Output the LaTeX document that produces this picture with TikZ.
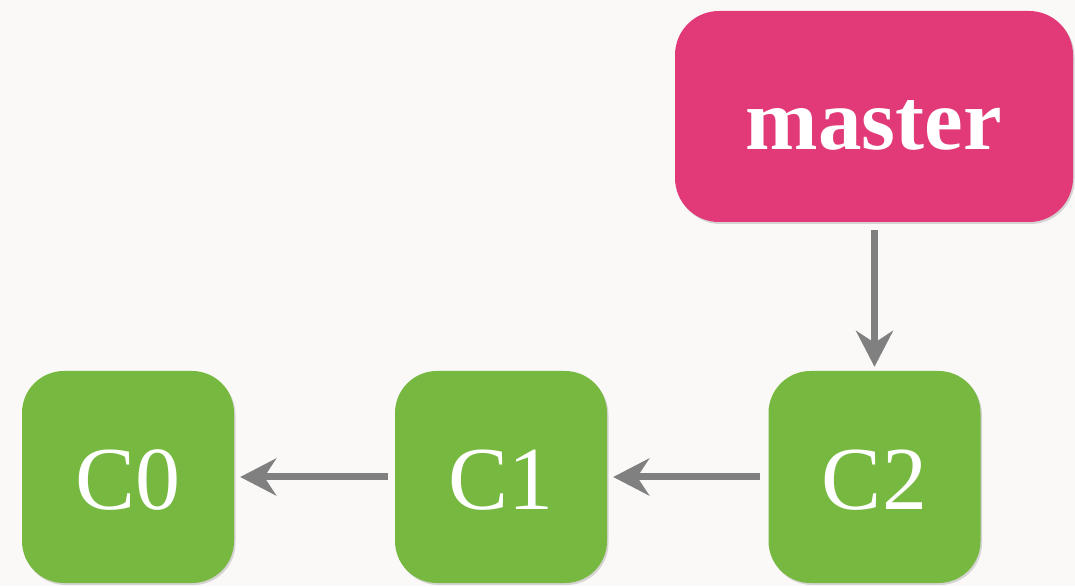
\documentclass[tikz,border=0pt]{standalone}
\usepackage{fontspec}
\setmainfont{Liberation Serif}
\usetikzlibrary{arrows.meta,shadows}
\definecolor{bgc}{HTML}{FAF9F7}
\definecolor{pinkc}{HTML}{E23A78}
\definecolor{greenc}{HTML}{77B940}
\definecolor{arrc}{HTML}{808080}
\newcommand\lowtxt[1]{\raisebox{-33pt}[0pt][0pt]{#1}}
\tikzset{
  commitbox/.style={fill=greenc, draw=none, rounded corners=42pt, minimum width=212pt, minimum height=212pt,
    text=white, font=\fontsize{90}{90}\selectfont, inner sep=0pt,
    drop shadow={opacity=0.3, shadow xshift=1.5pt, shadow yshift=-2pt}},
  branchbox/.style={fill=pinkc, draw=none, rounded corners=44pt, minimum width=398pt, minimum height=211pt,
    text=white, font=\fontsize{87}{87}\selectfont\bfseries, inner sep=0pt,
    drop shadow={opacity=0.3, shadow xshift=1.5pt, shadow yshift=-2pt}},
  link/.style={draw=arrc, line width=7pt, -{Stealth[length=36pt, width=37pt, inset=12pt]}}
}
\begin{document}
\begin{tikzpicture}[x=1pt,y=1pt]
\fill[bgc] (0,0) rectangle (1075,586);
\useasboundingbox (0,0) rectangle (1075,586);
\node[branchbox] (master) at (874,469.5) {\lowtxt{master}};
\node[commitbox] (c0) at (128,109) {\lowtxt{C0}};
\node[commitbox] (c1) at (501,109) {\lowtxt{C1}};
\node[commitbox] (c2) at (874.5,109) {\lowtxt{C2}};
\draw[link, shorten <=8pt, shorten >=4pt] (master.south -| c2.north) -- (c2.north);
\draw[link, shorten <=8pt, shorten >=6pt] (c2.west) -- (c1.east);
\draw[link, shorten <=7pt, shorten >=6pt] (c1.west) -- (c0.east);
\end{tikzpicture}
\end{document}
